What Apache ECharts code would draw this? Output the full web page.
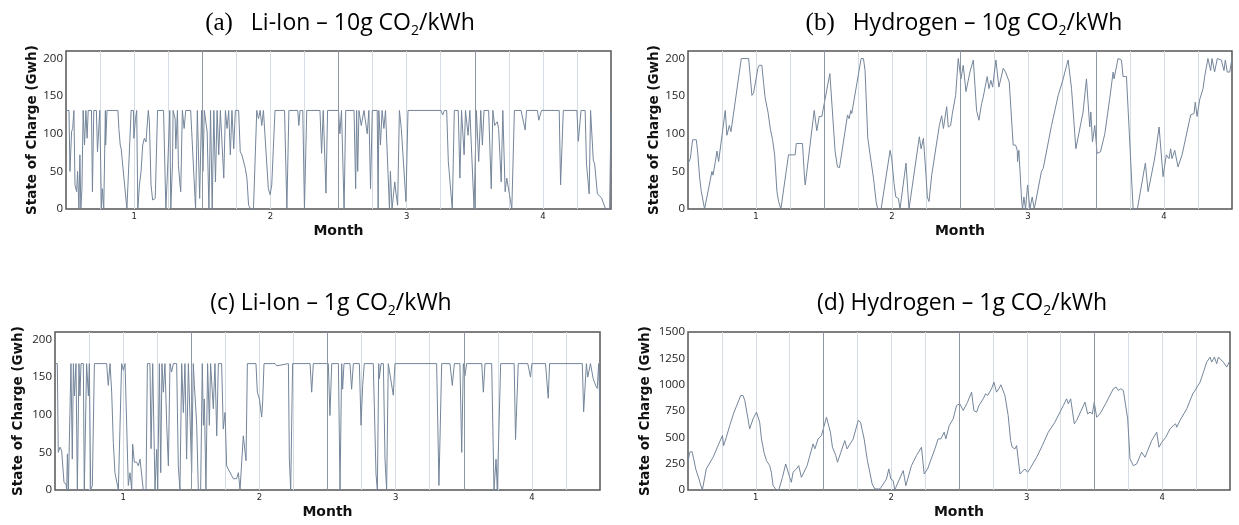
<!DOCTYPE html>
<html>
<head>
<meta charset="utf-8" />
<title>State of Charge</title>
<script src="https://cdn.jsdelivr.net/npm/echarts@6/dist/echarts.min.js"></script>
<style>
  html, body { margin: 0; padding: 0; background: #fff; }
  #chart { width: 1239px; height: 525px; }
</style>
</head>
<body>
<div id="chart"></div>
<script>
// month ticks and the darker month-boundary lines
var monthTicks = [1, 2, 3, 4];
var monthEdges = [1.5, 2.5, 3.5];

// (a) Li-Ion, 10g CO2/kWh  [month, GWh]
var liIon10 = [
  [0.505,131],[0.522,131],[0.529,50],[0.541,103],[0.549,107],[0.558,131],[0.566,32],[0.578,23],[0.585,50],
  [0.595,0],[0.602,72],[0.609,0],[0.617,27],[0.626,131],[0.636,85],[0.646,131],[0.655,94],[0.663,131],
  [0.687,131],[0.694,23],[0.704,131],[0.723,131],[0.731,76],[0.748,131],[0.760,0],[0.767,27],[0.777,0],
  [0.789,131],[0.791,85],[0.801,131],[0.881,131],[0.888,107],[0.898,85],[0.905,80],[0.930,32],[0.947,0],
  [0.961,0],[0.978,131],[0.995,131],[0.998,94],[1.010,120],[1.019,131],[1.027,0],[1.039,32],[1.051,50],
  [1.063,85],[1.075,94],[1.087,89],[1.104,131],[1.112,116],[1.124,32],[1.136,12],[1.155,14],[1.165,12],
  [1.172,131],[1.216,131],[1.233,0],[1.245,50],[1.262,131],[1.269,0],[1.282,63],[1.286,131],[1.301,120],
  [1.306,80],[1.318,131],[1.325,58],[1.337,32],[1.342,23],[1.354,131],[1.367,107],[1.379,131],[1.415,131],
  [1.451,0],[1.464,131],[1.481,14],[1.495,131],[1.505,50],[1.515,131],[1.524,131],[1.536,103],[1.549,0],
  [1.561,131],[1.573,0],[1.585,131],[1.597,36],[1.609,131],[1.621,72],[1.633,131],[1.646,131],[1.658,41],
  [1.670,131],[1.682,107],[1.694,131],[1.706,72],[1.718,131],[1.731,80],[1.743,131],[1.767,131],[1.779,76],
  [1.791,72],[1.816,54],[1.828,41],[1.840,5],[1.857,0],[1.876,0],[1.900,131],[1.913,120],[1.925,131],
  [1.937,111],[1.949,131],[1.985,27],[1.998,19],[2.010,32],[2.034,131],[2.104,131],[2.121,0],[2.136,131],
  [2.201,131],[2.209,111],[2.218,131],[2.238,131],[2.250,0],[2.267,131],[2.364,131],[2.376,74],[2.388,131],
  [2.408,21],[2.420,131],[2.500,131],[2.510,100],[2.522,131],[2.529,131],[2.541,0],[2.553,131],[2.614,131],
  [2.626,27],[2.633,131],[2.641,50],[2.650,131],[2.667,111],[2.687,131],[2.711,100],[2.723,131],[2.735,27],
  [2.748,131],[2.784,131],[2.791,0],[2.796,131],[2.808,85],[2.820,131],[2.833,107],[2.845,131],[2.874,0],
  [2.881,50],[2.893,0],[2.913,36],[2.922,21],[2.934,5],[2.947,131],[2.961,107],[2.995,10],[3.010,131],
  [3.252,131],[3.265,125],[3.277,131],[3.294,131],[3.306,63],[3.335,0],[3.350,131],[3.379,131],[3.391,41],
  [3.403,131],[3.422,72],[3.432,131],[3.451,98],[3.464,131],[3.495,0],[3.512,131],[3.529,63],[3.544,131],
  [3.556,85],[3.568,131],[3.602,131],[3.621,27],[3.633,131],[3.646,111],[3.665,116],[3.675,107],[3.694,36],
  [3.706,131],[3.723,23],[3.735,41],[3.755,19],[3.772,0],[3.791,131],[3.84,131],[3.87,105],[3.88,131],
  [3.96,131],[3.97,118],[3.99,131],[4.12,131],[4.13,32],[4.15,131],[4.25,131],[4.26,90],[4.28,131],
  [4.31,131],[4.32,60],[4.34,20],[4.35,131],[4.37,65],[4.38,60],[4.40,20],[4.43,15],[4.46,0],[4.49,0],[4.50,131]
];

// (b) Hydrogen, 10g CO2/kWh
var hydrogen10 = [
  [0.500,60],[0.517,67],[0.534,92],[0.561,92],[0.571,76],[0.578,76],[0.586,41],[0.598,23],[0.610,21],
  [0.622,0],[0.632,0],[0.676,50],[0.684,45],[0.701,63],[0.713,77],[0.725,63],[0.774,131],[0.786,98],
  [0.804,111],[0.816,103],[0.892,200],[0.946,200],[0.970,151],[0.982,154],[1.014,187],[1.024,191],
  [1.043,191],[1.056,167],[1.068,147],[1.088,129],[1.105,107],[1.122,92],[1.137,72],[1.154,23],[1.166,10],
  [1.183,0],[1.239,72],[1.288,72],[1.296,87],[1.342,87],[1.357,41],[1.362,32],[1.428,131],[1.447,104],
  [1.465,123],[1.484,123],[1.543,180],[1.550,178],[1.582,76],[1.599,56],[1.614,55],[1.673,125],[1.685,120],
  [1.697,131],[1.704,127],[1.773,200],[1.790,200],[1.802,184],[1.822,94],[1.839,72],[1.864,41],[1.883,10],
  [1.895,0],[1.920,0],[1.986,78],[1.998,67],[2.015,34],[2.028,16],[2.047,14],[2.059,0],[2.103,61],
  [2.125,0],[2.201,96],[2.214,80],[2.231,94],[2.238,76],[2.250,45],[2.260,16],[2.272,10],[2.292,45],
  [2.348,111],[2.365,124],[2.378,107],[2.402,136],[2.414,109],[2.431,111],[2.444,127],[2.468,151],
  [2.487,200],[2.507,173],[2.524,191],[2.544,156],[2.556,156],[2.573,182],[2.598,198],[2.622,131],
  [2.639,118],[2.659,140],[2.671,149],[2.700,176],[2.713,160],[2.727,171],[2.740,162],[2.764,198],
  [2.786,162],[2.818,187],[2.835,182],[2.862,169],[2.891,85],[2.909,85],[2.921,78],[2.923,63],[2.933,78],
  [2.953,12],[2.960,0],[2.970,16],[2.982,0],[2.997,32],[3.014,0],[3.031,16],[3.046,0],[3.099,50],
  [3.112,54],[3.173,111],[3.222,151],[3.259,173],[3.271,182],[3.295,198],[3.320,160],[3.332,162],
  [3.352,80],[3.405,129],[3.430,173],[3.454,109],[3.462,129],[3.474,89],[3.491,111],[3.508,74],[3.533,76],
  [3.565,100],[3.601,147],[3.626,182],[3.633,173],[3.662,200],[3.687,198],[3.699,176],[3.724,176],
  [3.773,0],[3.804,0],[3.863,61],[3.883,23],[3.927,63],[3.939,76],[3.964,109],[3.993,43],[4.017,72],
  [4.037,67],[4.049,80],[4.059,67],[4.079,78],[4.103,56],[4.133,72],[4.196,125],[4.221,127],[4.230,142],
  [4.243,123],[4.262,145],[4.287,160],[4.299,176],[4.323,200],[4.343,184],[4.353,200],[4.372,182],
  [4.392,200],[4.421,198],[4.441,184],[4.451,198],[4.465,182],[4.483,182],[4.500,200]
];

// (c) Li-Ion, 1g CO2/kWh
var liIon1 = [
  [0.500,168],[0.517,168],[0.524,50],[0.537,57],[0.549,52],[0.556,50],[0.566,10],[0.581,8],[0.586,0],
  [0.591,48],[0.598,0],[0.610,0],[0.617,168],[0.627,41],[0.635,168],[0.642,125],[0.654,168],[0.664,0],
  [0.676,168],[0.683,125],[0.691,168],[0.708,168],[0.715,0],[0.732,168],[0.745,125],[0.752,168],[0.762,0],
  [0.774,6],[0.789,168],[0.879,168],[0.891,139],[0.904,168],[0.916,130],[0.928,63],[0.940,23],[0.953,23],
  [0.965,0],[0.977,0],[0.989,168],[1.002,159],[1.014,168],[1.038,6],[1.050,23],[1.063,0],[1.070,61],
  [1.082,37],[1.099,37],[1.112,32],[1.124,41],[1.136,41],[1.148,0],[1.168,0],[1.178,168],[1.197,168],
  [1.205,55],[1.217,168],[1.234,0],[1.246,54],[1.254,0],[1.266,168],[1.276,23],[1.285,168],[1.295,130],
  [1.307,168],[1.320,86],[1.332,32],[1.344,168],[1.356,157],[1.369,168],[1.393,168],[1.405,32],[1.417,0],
  [1.430,168],[1.442,103],[1.454,168],[1.466,41],[1.479,168],[1.503,23],[1.515,168],[1.523,139],[1.535,103],
  [1.540,86],[1.552,0],[1.569,0],[1.581,168],[1.589,86],[1.596,121],[1.608,0],[1.620,168],[1.633,86],
  [1.642,168],[1.662,108],[1.674,168],[1.687,72],[1.699,168],[1.723,168],[1.735,81],[1.748,103],[1.760,32],
  [1.797,19],[1.809,15],[1.833,15],[1.846,23],[1.858,0],[1.870,0],[1.882,72],[1.894,72],[1.902,39],
  [1.912,168],[1.975,168],[1.985,130],[2.000,121],[2.017,97],[2.024,117],[2.034,168],[2.115,168],
  [2.127,165],[2.213,168],[2.220,41],[2.230,0],[2.244,168],[2.372,168],[2.384,130],[2.396,168],[2.506,168],
  [2.518,99],[2.531,168],[2.580,168],[2.592,0],[2.604,168],[2.611,134],[2.621,168],[2.665,168],[2.677,134],
  [2.690,168],[2.734,168],[2.746,86],[2.758,139],[2.770,168],[2.836,168],[2.856,21],[2.866,0],[2.876,168],
  [2.880,148],[2.893,168],[2.910,168],[2.922,41],[2.934,0],[2.946,168],[2.983,126],[2.995,168],[3.301,168],
  [3.318,6],[3.338,168],[3.399,168],[3.416,139],[3.431,168],[3.472,168],[3.485,50],[3.497,168],[3.509,152],
  [3.521,168],[3.632,168],[3.644,130],[3.656,168],[3.705,168],[3.722,0],[3.737,41],[3.746,0],[3.771,168],
  [3.87,168],[3.88,67],[3.90,168],[3.97,168],[3.99,150],[4.00,168],[4.10,168],[4.12,122],[4.13,168],
  [4.37,168],[4.38,104],[4.40,168],[4.41,150],[4.43,168],[4.45,148],[4.47,138],[4.48,135],[4.49,168],[4.50,105]
];

// (d) Hydrogen, 1g CO2/kWh
var hydrogen1 = [
  [0.500,263],[0.512,358],[0.530,365],[0.542,295],[0.557,200],[0.569,152],[0.581,105],[0.591,57],
  [0.606,0],[0.611,0],[0.635,200],[0.685,311],[0.697,295],[0.722,422],[0.754,517],[0.763,422],[0.783,501],
  [0.808,612],[0.840,739],[0.889,897],[0.906,897],[0.919,850],[0.931,834],[0.943,675],[0.955,580],
  [0.968,580],[0.980,675],[1.005,739],[1.017,755],[1.029,644],[1.042,485],[1.061,358],[1.079,279],
  [1.103,231],[1.115,168],[1.128,41],[1.152,0],[1.170,0],[1.197,120],[1.221,247],[1.231,231],[1.251,120],
  [1.263,73],[1.275,168],[1.300,200],[1.317,231],[1.337,120],[1.342,105],[1.379,231],[1.423,438],
  [1.436,390],[1.460,485],[1.485,517],[1.522,691],[1.534,691],[1.551,549],[1.566,406],[1.591,327],
  [1.603,263],[1.628,358],[1.657,469],[1.674,390],[1.687,406],[1.719,485],[1.756,660],[1.773,644],
  [1.800,485],[1.824,279],[1.842,168],[1.859,57],[1.879,10],[1.916,10],[1.933,41],[1.965,105],[1.982,200],
  [1.997,105],[2.014,89],[2.026,3],[2.034,25],[2.088,184],[2.108,41],[2.149,231],[2.186,327],[2.223,406],
  [2.243,152],[2.268,200],[2.322,390],[2.346,485],[2.366,485],[2.391,549],[2.403,485],[2.428,612],
  [2.457,675],[2.482,802],[2.494,786],[2.506,818],[2.531,755],[2.563,834],[2.593,929],[2.610,755],
  [2.630,739],[2.647,802],[2.679,866],[2.696,913],[2.711,897],[2.740,961],[2.758,1024],[2.777,929],
  [2.794,961],[2.809,999],[2.839,897],[2.863,707],[2.881,469],[2.893,406],[2.913,390],[2.925,422],
  [2.950,152],[2.962,136],[2.986,200],[3.006,168],[3.023,200],[3.073,311],[3.115,422],[3.159,549],
  [3.208,644],[3.270,802],[3.294,866],[3.307,818],[3.324,866],[3.351,628],[3.368,660],[3.430,834],
  [3.449,723],[3.467,739],[3.484,723],[3.498,834],[3.516,691],[3.540,723],[3.582,818],[3.607,882],
  [3.639,961],[3.659,977],[3.676,945],[3.693,961],[3.713,945],[3.745,675],[3.762,295],[3.787,231],
  [3.811,247],[3.848,358],[3.873,311],[3.922,469],[3.959,549],[3.976,406],[3.996,453],[4.026,501],
  [4.057,580],[4.082,612],[4.099,628],[4.107,596],[4.131,660],[4.181,771],[4.225,913],[4.242,945],
  [4.279,1024],[4.304,1119],[4.328,1214],[4.353,1262],[4.365,1214],[4.385,1262],[4.402,1199],
  [4.414,1262],[4.427,1246],[4.451,1214],[4.476,1167],[4.500,1230]
];

var panels = [
  { data: liIon10,    left: 66,  top: 51,  width: 545, yMax: 210,  yStep: 50,  gap: 26, cx: 340, cy: 23,
    title: '{p|(a)}{t|   Li-Ion – 10g CO}{s|2}{t|/kWh}' },
  { data: hydrogen10, left: 688, top: 51,  width: 544, yMax: 210,  yStep: 50,  gap: 27, cx: 964, cy: 23,
    title: '{p|(b)}{t|   Hydrogen – 10g CO}{s|2}{t|/kWh}' },
  { data: liIon1,     left: 55,  top: 332, width: 545, yMax: 210,  yStep: 50,  gap: 30, cx: 331, cy: 303,
    title: '{t|(c) Li-Ion – 1g CO}{s|2}{t|/kWh}' },
  { data: hydrogen1,  left: 688, top: 332, width: 542, yMax: 1500, yStep: 250, gap: 36, cx: 962, cy: 303,
    title: '{t|(d) Hydrogen – 1g CO}{s|2}{t|/kWh}' }
];

var lineColor = '#74859a';
var tickFont = 'DejaVu Sans';

var titleRich = {
  p: { fontFamily: 'Liberation Serif', fontSize: 25, color: '#000', lineHeight: 30 },
  t: { fontFamily: 'Open Sans', fontSize: 23, color: '#000', lineHeight: 30 },
  s: { fontFamily: 'Open Sans', fontSize: 14, color: '#000', lineHeight: 14, verticalAlign: 'bottom' }
};

var grids = [], xAxes = [], yAxes = [], series = [], graphics = [];

panels.forEach(function (p, i) {
  grids.push({
    left: p.left, top: p.top, width: p.width, height: 158,
    show: true, borderColor: '#555', borderWidth: 1.5, backgroundColor: '#fff'
  });
  xAxes.push({
    type: 'value', gridIndex: i, min: 0.5, max: 4.5, interval: 0.25,
    name: 'Month', nameLocation: 'middle', nameGap: 15,
    nameTextStyle: { fontFamily: tickFont, fontWeight: 'bold', fontSize: 14, color: '#111' },
    axisLine: { show: false }, axisTick: { show: false },
    axisLabel: {
      fontFamily: tickFont, fontSize: 8.5, color: '#222', margin: 3,
      formatter: function (v) { return monthTicks.indexOf(v) >= 0 ? String(v) : ''; }
    },
    splitLine: { show: true, showMinLine: false, showMaxLine: false,
      lineStyle: { color: '#d5dce4', width: 1 } }
  });
  yAxes.push({
    type: 'value', gridIndex: i, min: 0, max: p.yMax, interval: p.yStep,
    name: 'State of Charge (Gwh)', nameLocation: 'middle', nameGap: p.gap,
    nameTextStyle: { fontFamily: tickFont, fontWeight: 'bold', fontSize: 13.5, color: '#111' },
    axisLine: { show: false }, axisTick: { show: false },
    axisLabel: {
      fontFamily: 'Open Sans', fontSize: 11.5, color: '#222', margin: 3,
      formatter: function (v) { return v % p.yStep === 0 ? String(v) : ''; }
    },
    splitLine: { show: false }
  });
  series.push({
    type: 'line', xAxisIndex: i, yAxisIndex: i, data: p.data,
    symbol: 'none', lineStyle: { color: lineColor, width: 1 },
    markLine: {
      silent: true, symbol: 'none', label: { show: false },
      lineStyle: { color: '#8d97a4', width: 1, type: 'solid' },
      data: monthEdges.map(function (x) { return { xAxis: x }; })
    }
  });
  graphics.push({
    type: 'text', x: p.cx, y: p.cy,
    style: { text: p.title, rich: titleRich, align: 'center', verticalAlign: 'middle',
      textAlign: 'center', textVerticalAlign: 'middle' }
  });
});

var chart = echarts.init(document.getElementById('chart'));
chart.setOption({
  animation: false,
  backgroundColor: '#fff',
  grid: grids,
  xAxis: xAxes,
  yAxis: yAxes,
  series: series,
  graphic: graphics
});

window.onresize = function () { chart.resize(); };
</script>
</body>
</html>
